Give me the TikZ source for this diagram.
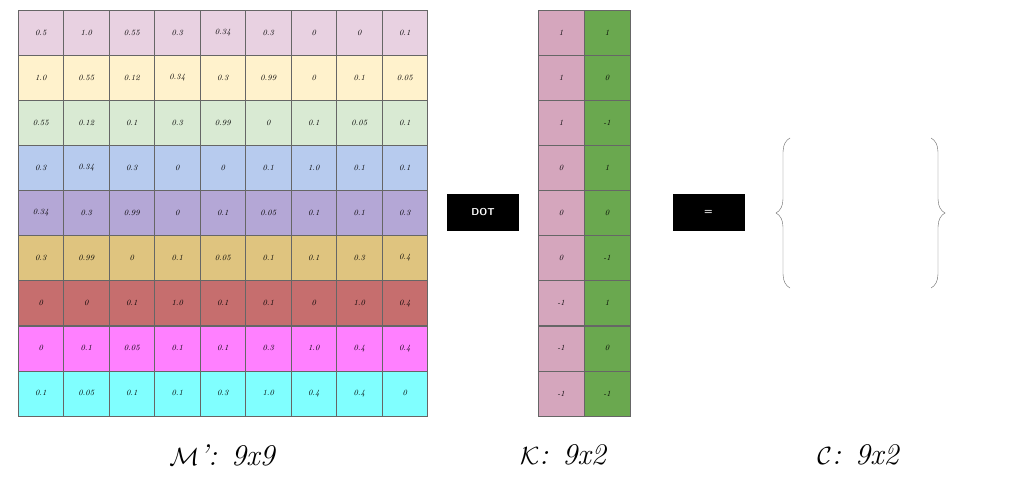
\documentclass[tikz,border=0pt]{standalone}
\usepackage{amsmath}
\usetikzlibrary{positioning,decorations.pathreplacing}
\definecolor{rowa}{HTML}{E8D1E1}
\definecolor{rowb}{HTML}{FFF2CC}
\definecolor{rowc}{HTML}{D9EAD3}
\definecolor{rowd}{HTML}{B7CBEE}
\definecolor{rowe}{HTML}{B4A7D6}
\definecolor{rowf}{HTML}{DFC47F}
\definecolor{rowg}{HTML}{C66E6E}
\definecolor{rowh}{HTML}{FF80FF}
\definecolor{rowi}{HTML}{80FFFF}
\definecolor{kpink}{HTML}{D5A6BD}
\definecolor{kgreen}{HTML}{6AA84F}
\tikzset{cell/.style={draw=black!60,minimum width=45.5pt,minimum height=45pt,inner sep=0pt,font=\footnotesize\itshape}}
\tikzset{opbox/.style={fill=black,text=white,minimum width=72pt,minimum height=37pt,font=\sffamily\bfseries}}
\tikzset{caption/.style={font=\fontsize{30}{34}\selectfont\itshape}}
\tikzset{curly/.style={decorate,decoration={brace,amplitude=14pt},draw=black!60}}
\begin{document}
\begin{tikzpicture}[x=1pt,y=-1pt]
  \useasboundingbox (0,0) rectangle (1024,488);
  % matrix M'
  \foreach \rowname/\vals [count=\r] in {
      rowa/{0.5,1.0,0.55,0.3,0.34,0.3,0,0,0.1},
      rowb/{1.0,0.55,0.12,0.34,0.3,0.99,0,0.1,0.05},
      rowc/{0.55,0.12,0.1,0.3,0.99,0,0.1,0.05,0.1},
      rowd/{0.3,0.34,0.3,0,0,0.1,1.0,0.1,0.1},
      rowe/{0.34,0.3,0.99,0,0.1,0.05,0.1,0.1,0.3},
      rowf/{0.3,0.99,0,0.1,0.05,0.1,0.1,0.3,0.4},
      rowg/{0,0,0.1,1.0,0.1,0.1,0,1.0,0.4},
      rowh/{0,0.1,0.05,0.1,0.1,0.3,1.0,0.4,0.4},
      rowi/{0.1,0.05,0.1,0.1,0.3,1.0,0.4,0.4,0}}
    \foreach \val [count=\c] in \vals
      \node[cell,fill=\rowname] (m-\r-\c) at ({18+45.5*(\c-0.5)},{10+45.1*(\r-0.5)}) {\val};
  % matrix K
  \foreach \a/\b [count=\r] in {1/1,1/0,1/-1,0/1,0/0,0/-1,-1/1,-1/0,-1/-1} {
    \node[cell,fill=kpink,minimum width=46pt] (k-\r-1) at (561,{10+45.1*(\r-0.5)}) {\a};
    \node[cell,fill=kgreen,minimum width=46pt] (k-\r-2) at (607,{10+45.1*(\r-0.5)}) {\b};
  }
  \node[opbox] (dot) at (483,212.5) {DOT};
  \node[opbox] (eq) at (708.5,212.5) {=};
  % result braces
  \coordinate (cbl) at (790,288);
  \coordinate (ctl) at (790,138);
  \coordinate (ctr) at (931,138);
  \coordinate (cbr) at (931,288);
  \draw[curly] (cbl) -- (ctl);
  \draw[curly] (ctr) -- (cbr);
  \node[caption] (capm) at (222,455) {$\mathcal{M}$': 9x9};
  \node[caption] (capk) at (563,455) {$\mathcal{K}$: 9x2};
  \node[caption] (capc) at (858,455) {$\mathcal{C}$: 9x2};
\end{tikzpicture}
\end{document}
